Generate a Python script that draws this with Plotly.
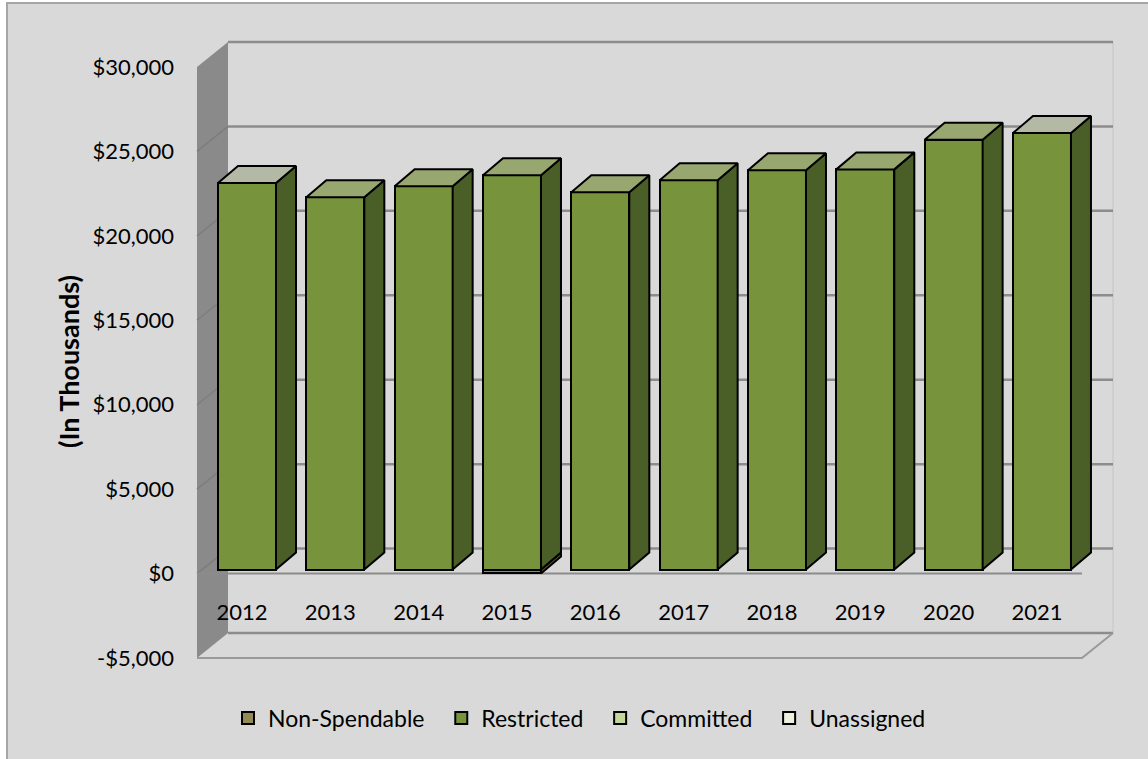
import plotly.graph_objects as go

# ---- data (in thousands of dollars) ----
years = ["2012", "2013", "2014", "2015", "2016", "2017", "2018", "2019", "2020", "2021"]
non_spendable = [0, 0, 0, -230, 0, 0, 0, 0, 0, 0]
restricted = [22900, 22050, 22700, 23350, 22350, 23050, 23650, 23700, 25450, 25850]
committed = [0, 0, 0, 0, 0, 0, 0, 0, 0, 0]
unassigned = [0, 0, 0, 0, 0, 0, 0, 0, 0, 0]

y_tick_vals = [-5000, 0, 5000, 10000, 15000, 20000, 25000, 30000]
y_tick_text = ["-$5,000", "$0", "$5,000", "$10,000", "$15,000", "$20,000", "$25,000", "$30,000"]

series = [
    ("Non-Spendable", non_spendable, "#948a54", "#5e5735", "#b3ab7e"),
    ("Restricted", restricted, "#77933c", "#4a5e27", "#98a670"),
    ("Committed", committed, "#c3d69b", "#8fa068", "#d6e3bc"),
    ("Unassigned", unassigned, "#ebf1de", "#b8bfaa", "#f4f7ee"),
]
# lighter cap shading on the outer columns
top_light = "#b3b9a5"

# ---- geometry of the pseudo-3D frame (pixels) ----
W, H = 1148, 759
L, R, T, B = 197, 1120, 67, 658          # plot area
R_FRONT = 1082                           # right end of the front plane
PW, PH = R - L, B - T
Y_LO, Y_HI = -5000, 30000
DEPTH_X, DEPTH_Y = 31, 25                # front plane -> back wall
CAT_PX = 88.33                           # pixels per category
BAR_PX = 58                              # column face width
BAR_DX, BAR_DY = 20, 17                  # column depth
BAR_SHIFT_X, BAR_SHIFT_Y = 5, 4          # column face sits slightly behind the front plane
FIRST_LABEL_PX = 242


def px_x(p):
    return (p - L) / PW


def px_y(p):
    return (B - p) / PH


def val_to_px(v):
    return B - (v - Y_LO) / (Y_HI - Y_LO) * PH


# axis ranges
x_front_lo = -(FIRST_LABEL_PX - L) / CAT_PX
x_front = [x_front_lo, x_front_lo + PW / CAT_PX]
x_bar_lo = -(FIRST_LABEL_PX + BAR_SHIFT_X - L) / CAT_PX
x_bar = [x_bar_lo, x_bar_lo + PW / CAT_PX]
units_per_px = (Y_HI - Y_LO) / PH
y_bar_lo = Y_LO - BAR_SHIFT_Y * units_per_px
y_bar = [y_bar_lo, y_bar_lo + (Y_HI - Y_LO)]

bw = BAR_PX / CAT_PX
dx = BAR_DX / CAT_PX
dy = BAR_DY * units_per_px

fig = go.Figure()

# invisible anchor so the front-plane axes are rendered
fig.add_trace(go.Scatter(x=[0], y=[0], mode="markers", marker=dict(opacity=0),
                         showlegend=False, hoverinfo="skip"))

# front faces of the stacked columns
NBSP = "\u00a0"
for name, vals, col, _, _ in series:
    fig.add_trace(go.Bar(
        x=list(range(len(years))), y=vals, name=name + NBSP * 2, width=bw,
        marker=dict(color=col, line=dict(color="black", width=2)),
        xaxis="x2", yaxis="y2", hoverinfo="skip",
    ))

# side and top faces, built from the same stacked values
pos_base = [0.0] * len(years)
neg_base = [0.0] * len(years)
tops = [None] * len(years)
for name, vals, col, side_col, top_col in series:
    for i, v in enumerate(vals):
        if v == 0:
            continue
        if v > 0:
            y0, y1 = pos_base[i], pos_base[i] + v
            pos_base[i] = y1
            tops[i] = (y1, top_col)
        else:
            y0, y1 = neg_base[i] + v, neg_base[i]
            neg_base[i] = y0
        xr = i + bw / 2
        fig.add_trace(go.Scatter(
            x=[xr, xr + dx, xr + dx, xr, xr],
            y=[y0, y0 + dy, y1 + dy, y1, y0],
            fill="toself", fillcolor=side_col, mode="lines",
            line=dict(color="black", width=2), showlegend=False,
            xaxis="x2", yaxis="y2", hoverinfo="skip",
        ))
for i, t in enumerate(tops):
    if t is None:
        continue
    ytop, tc = t
    if i in (0, len(years) - 1):
        tc = top_light
    xl, xr = i - bw / 2, i + bw / 2
    fig.add_trace(go.Scatter(
        x=[xl, xl + dx, xr + dx, xr, xl],
        y=[ytop, ytop + dy, ytop + dy, ytop, ytop],
        fill="toself", fillcolor=tc, mode="lines",
        line=dict(color="black", width=2), showlegend=False,
        xaxis="x2", yaxis="y2", hoverinfo="skip",
    ))

# ---- walls, floor and frame ----
shapes = []
# chart area background with its border
shapes.append(dict(type="rect", xref="paper", yref="paper", layer="below",
                   x0=px_x(7), x1=px_x(W + 5), y0=px_y(3), y1=px_y(H + 5),
                   fillcolor="#d9d9d9", line=dict(color="#a6a6a6", width=2)))

bx0, bx1 = L + DEPTH_X, R_FRONT + DEPTH_X
# left wall
lw = [(L, val_to_px(Y_HI)), (bx0, val_to_px(Y_HI) - DEPTH_Y),
      (bx0, val_to_px(Y_LO) - DEPTH_Y), (L, val_to_px(Y_LO))]
path = "M " + " L ".join(f"{px_x(a)},{px_y(b)}" for a, b in lw) + " Z"
shapes.append(dict(type="path", xref="paper", yref="paper", layer="below", path=path,
                   fillcolor="#8a8a8a", line=dict(width=0)))
# back wall right edge
shapes.append(dict(type="line", xref="paper", yref="paper", layer="below",
                   x0=px_x(bx1), x1=px_x(bx1),
                   y0=px_y(val_to_px(Y_HI) - DEPTH_Y), y1=px_y(val_to_px(Y_LO) - DEPTH_Y),
                   line=dict(color="#c4c4c4", width=1)))
# gridlines on the back wall and the left wall
for v in y_tick_vals:
    fy = val_to_px(v)
    by = fy - DEPTH_Y
    shapes.append(dict(type="line", xref="paper", yref="paper", layer="below",
                       x0=px_x(bx0), x1=px_x(bx1), y0=px_y(by), y1=px_y(by),
                       line=dict(color="#8c8c8c", width=2.5)))
    if Y_LO < v < Y_HI:
        shapes.append(dict(type="line", xref="paper", yref="paper", layer="below",
                           x0=px_x(L), x1=px_x(bx0), y0=px_y(fy), y1=px_y(by),
                           line=dict(color="#7d7d7d", width=1.5)))
# category axis line on the front plane at $0
zy = val_to_px(0)
shapes.append(dict(type="line", xref="paper", yref="paper", layer="below",
                   x0=px_x(L), x1=px_x(R_FRONT), y0=px_y(zy), y1=px_y(zy),
                   line=dict(color="#8c8c8c", width=2)))
# floor front edge
fl = val_to_px(Y_LO)
shapes.append(dict(type="path", xref="paper", yref="paper", layer="below",
                   path=f"M {px_x(L)},{px_y(fl)} L {px_x(R_FRONT)},{px_y(fl)} L {px_x(bx1)},{px_y(fl - DEPTH_Y)}",
                   line=dict(color="#9a9a9a", width=2)))

# axis title
annotations = [dict(text="<b>(In Thousands)</b>", xref="paper", yref="paper",
                    x=px_x(68), y=px_y(362), xanchor="center", yanchor="middle",
                    textangle=-90, showarrow=False,
                    font=dict(family="Lato", size=27, color="black"))]

fig.update_layout(
    width=W, height=H,
    margin=dict(l=L, r=W - R, t=T, b=H - B, pad=0),
    paper_bgcolor="white", plot_bgcolor="rgba(0,0,0,0)",
    barmode="relative", bargap=0,
    font=dict(family="Lato", size=22, color="black"),
    showlegend=True,
    legend=dict(orientation="h", x=px_x(228), y=px_y(718), xanchor="left", yanchor="middle",
                bgcolor="rgba(0,0,0,0)", font=dict(family="Lato", size=23, color="black"),
                traceorder="normal", itemclick=False, itemwidth=30),
    xaxis=dict(range=x_front, tickvals=list(range(len(years))), ticktext=years,
               anchor="free", position=px_y(597), showline=False, showgrid=False,
               zeroline=False, ticks="", tickfont=dict(family="Lato", size=22, color="black")),
    yaxis=dict(range=[Y_LO, Y_HI], tickvals=y_tick_vals, ticktext=y_tick_text,
               showgrid=False, zeroline=False, showline=False, ticks="", ticklabelstandoff=22,
               tickfont=dict(family="Lato", size=22, color="black")),
    xaxis2=dict(range=x_bar, overlaying="x", visible=False),
    yaxis2=dict(range=y_bar, overlaying="y", visible=False),
    shapes=shapes, annotations=annotations,
)

fig.write_html("out.html")
